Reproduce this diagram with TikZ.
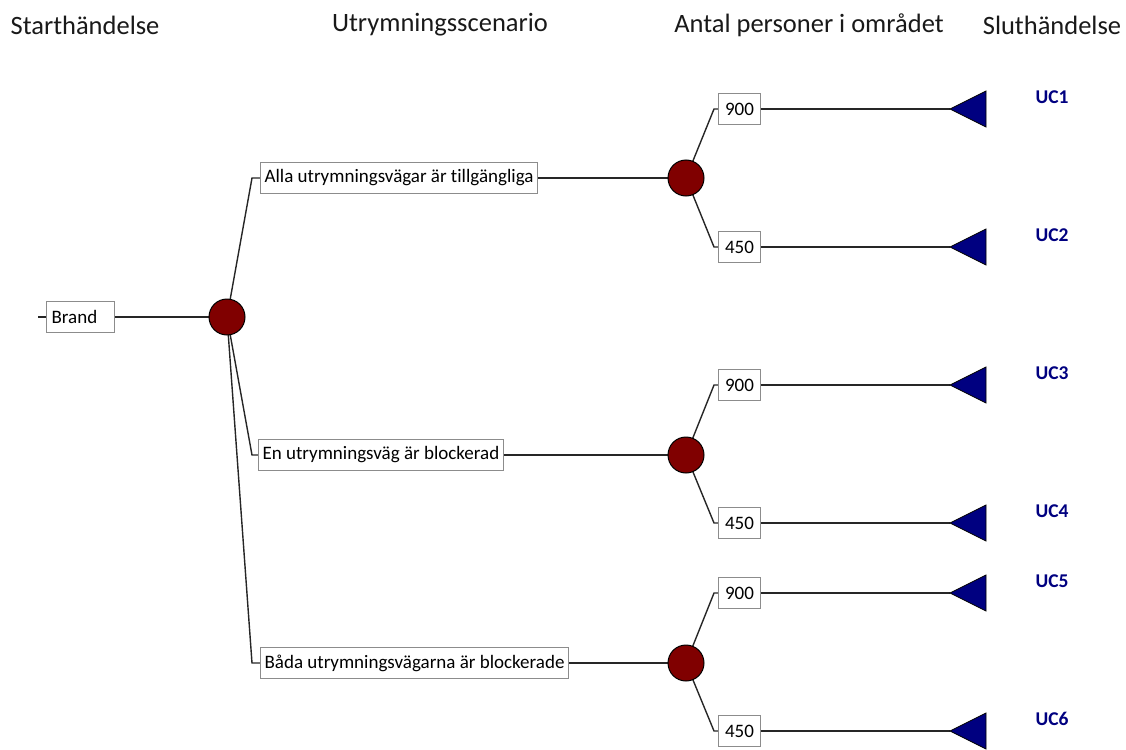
\documentclass[tikz,border=0pt]{standalone}
\usepackage{fontspec}
\setmainfont[Ligatures=NoCommon]{Carlito}
\usetikzlibrary{backgrounds}
\definecolor{evred}{RGB}{128,0,0}
\definecolor{evblue}{RGB}{0,0,128}
\definecolor{boxgray}{RGB}{140,140,140}
\begin{document}
\begin{tikzpicture}[x=1pt,y=-1pt,
  lbl/.style={draw=boxgray,line width=1.2pt,fill=white,font=\fontsize{19}{19}\selectfont,minimum height=31pt,inner xsep=4pt,inner ysep=0pt,anchor=west},
  chance/.style={circle,draw=black,line width=1pt,fill=evred,minimum size=36pt,inner sep=0pt},
  head/.style={font=\fontsize{26.5}{26.5}\selectfont,text=black!90},
  uc/.style={font=\bfseries\fontsize{19.5}{19.5}\selectfont,text=evblue},
  conn/.style={line width=1.4pt,black!85},
  endtri/.style={fill=evblue,draw=black,line width=0.8pt}]
\useasboundingbox (0,0) rectangle (1126,749);
% headers
\node[head] (h1) at (85,25) {Starthändelse};
\node[head] (h2) at (440,25) {Utrymningsscenario};
\node[head] (h3) at (809,25) {Antal personer i området};
\node[head] (h4) at (1052,25) {Sluthändelse};
% start
\node[lbl,minimum width=68pt,text width=58pt,align=left] (brand) at (46,317) {Brand};
\coordinate (bt) at (38,317);
\node[chance] (c0) at (227,317) {};
% scenarios
\node[lbl] (s1) at (260,178) {Alla utrymningsvägar är tillgängliga};
\node[lbl] (s2) at (258,455) {En utrymningsväg är blockerad};
\node[lbl] (s3) at (260,663) {Båda utrymningsvägarna är blockerade};
\node[chance] (c1) at (686,178) {};
\node[chance] (c2) at (686,455) {};
\node[chance] (c3) at (686,663) {};
% numbers
\foreach \i/\y/\v in {1/109/900,2/247/450,3/385/900,4/523/450,5/593/900,6/731/450}{
  \node[lbl,inner xsep=6.5pt] (n\i) at (718,\y) {\v};
  \coordinate (t\i) at (950,\y);
  \node[uc] (u\i) at (1052,\y-12) {UC\i};
}
\foreach \i in {1,...,6}{
  \fill[endtri] (t\i) -- ++(36,-18) -- ++(0,36) -- cycle;
}
\begin{scope}[on background layer]
  \draw[conn] (bt) -- (brand.west);
  \draw[conn] (brand.east) -- (c0.center);
  \draw[conn] (c0.center) -- ([xshift=-8pt]s1.west) -- (s1.west);
  \draw[conn] (c0.center) -- ([xshift=-6pt]s2.west) -- (s2.west);
  \draw[conn] (c0.center) -- ([xshift=-8pt]s3.west) -- (s3.west);
  \draw[conn] (s1.east) -- (c1.center);
  \draw[conn] (s2.east) -- (c2.center);
  \draw[conn] (s3.east) -- (c3.center);
  \draw[conn] (c1.center) -- ([xshift=-4pt]n1.west) -- (n1.west);
  \draw[conn] (c1.center) -- ([xshift=-4pt]n2.west) -- (n2.west);
  \draw[conn] (c2.center) -- ([xshift=-4pt]n3.west) -- (n3.west);
  \draw[conn] (c2.center) -- ([xshift=-4pt]n4.west) -- (n4.west);
  \draw[conn] (c3.center) -- ([xshift=-4pt]n5.west) -- (n5.west);
  \draw[conn] (c3.center) -- ([xshift=-4pt]n6.west) -- (n6.west);
  \foreach \i in {1,...,6}{\draw[conn] (n\i.east) -- (t\i);}
\end{scope}
\end{tikzpicture}
\end{document}
